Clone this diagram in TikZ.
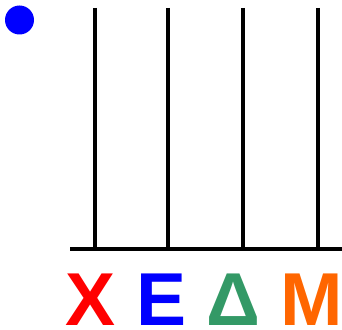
\documentclass[tikz,border=0pt]{standalone}
\usepackage{fontspec}
\setmainfont{Liberation Sans}
\usetikzlibrary{positioning}
\definecolor{xred}{HTML}{FF0000}
\definecolor{eblue}{HTML}{0000FF}
\definecolor{dgreen}{HTML}{339966}
\definecolor{morange}{HTML}{FF6600}
\begin{document}
\begin{tikzpicture}[x=1pt, y=-1pt,
    stem/.style={line width=4pt, color=black},
    letter/.style={anchor=base, inner sep=0pt, font=\fontsize{75}{75}\selectfont\bfseries},
  ]
  \useasboundingbox (0,0) rectangle (342,329);

  % Dot
  \fill[eblue] (19.5,20) circle (14.5pt);

  % Base line and stems
  \coordinate (baseL) at (70,248.5);
  \coordinate (baseR) at (342,248.5);
  \draw[stem] (baseL) -- (baseR);
  \foreach \i/\x in {1/95, 2/168, 3/243, 4/317.5} {
    \coordinate (top\i) at (\x,8);
    \coordinate (foot\i) at (\x,248.5);
    \draw[stem] (top\i) -- (foot\i);
  }

  % Letters
  \node[letter, text=xred] (chi) at (91,325) {X};
  \node[letter, text=eblue] (epsilon) at (161.5,325) {E};
  \node[letter, text=dgreen] (delta) at (233.5,325) {Δ};
  \node[letter, text=morange] (mu) at (312,325) {M};
\end{tikzpicture}
\end{document}
